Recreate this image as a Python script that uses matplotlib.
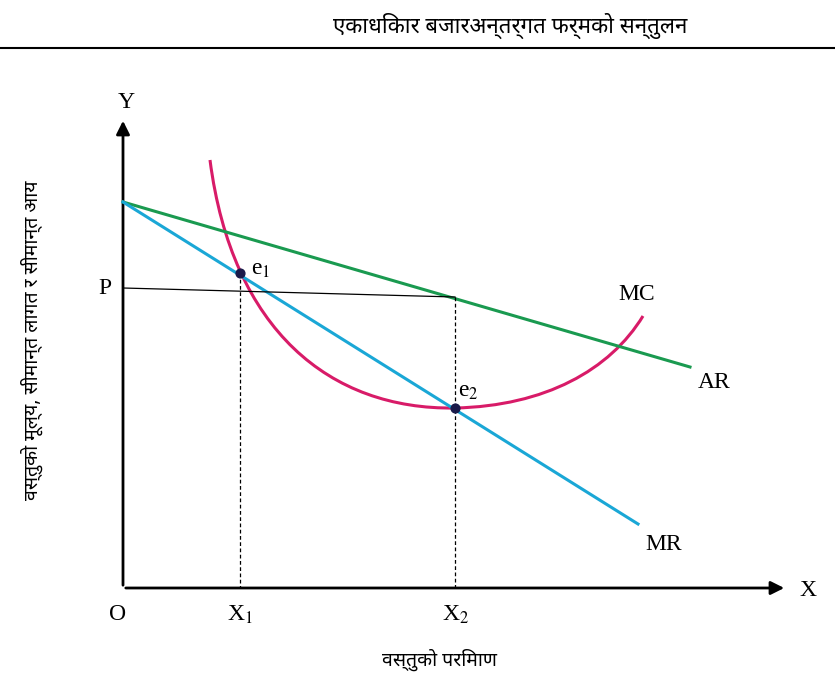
import matplotlib.pyplot as plt
from matplotlib.patches import FancyArrowPatch, PathPatch
from matplotlib.path import Path

plt.rcParams['font.family'] = ['Noto Sans', 'DejaVu Sans']
plt.rcParams['mathtext.fontset'] = 'stix'

# coordinates (pixel space, y down)
origin = (123, 588)
ar_x = [123, 690]
ar_y = [202, 367]
mr_x = [123, 638]
mr_y = [202, 524]
# MC drawn as two cubic Bezier segments: start, ctrl, ctrl, min, ctrl, ctrl, end
mc_pts = [(210, 160), (232, 330), (330, 410), (455, 408), (545, 406), (610, 370), (643, 316)]
e_x = [240, 455]
e_y = [273, 408]
p_y = 288
ar_at_x2 = 297

fig = plt.figure(figsize=(8.35, 6.81), dpi=100)
ax = fig.add_axes([0, 0, 1, 1])
ax.set_xlim(0, 835)
ax.set_ylim(681, 0)
ax.axis('off')

# header
ax.text(510, 26, 'एकाधिकार बजारअन्तर्गत फर्मको सन्तुलन', fontsize=16, fontweight='bold',
        ha='center', va='center')
ax.plot([0, 835], [48, 48], color='black', lw=1.5)

# axes arrows
ax.add_patch(FancyArrowPatch(origin, (123, 118), arrowstyle='-|>', mutation_scale=20, color='black', lw=2))
ax.add_patch(FancyArrowPatch(origin, (787, 588), arrowstyle='-|>', mutation_scale=20, color='black', lw=2))

ax.plot(ar_x, ar_y, color='#1a9a50', lw=2.2)
ax.plot(mr_x, mr_y, color='#1aa7d6', lw=2.2)
codes = [Path.MOVETO] + [Path.CURVE4] * 6
ax.add_patch(PathPatch(Path(mc_pts, codes), fill=False, edgecolor='#d81b68', lw=2.2))

ax.plot([123, e_x[1]], [p_y, ar_at_x2], color='black', lw=0.9)
ax.plot([e_x[0]] * 2, [e_y[0], 588], color='black', lw=0.9, ls=(0, (3, 2)))
ax.plot([e_x[1]] * 2, [ar_at_x2, 588], color='black', lw=0.9, ls=(0, (3, 2)))
ax.scatter(e_x, e_y, color='#1a1a4a', s=40, zorder=5)

serif = {'family': 'Liberation Serif', 'fontsize': 17}
ax.text(126, 102, 'Y', ha='center', va='center', **serif)
ax.text(808, 591, 'X', ha='center', va='center', **serif)
ax.text(118, 615, 'O', ha='center', va='center', **serif)
ax.text(105, 289, 'P', ha='center', va='center', **serif)
ax.text(240, 615, 'X$_1$', ha='center', va='center', **serif)
ax.text(456, 615, 'X$_2$', ha='center', va='center', **serif)
ax.text(251, 270, 'e$_1$', ha='left', va='center', **serif)
ax.text(458, 392, 'e$_2$', ha='left', va='center', **serif)
ax.text(618, 295, 'MC', ha='left', va='center', **serif)
ax.text(698, 382, 'AR', ha='left', va='center', **serif)
ax.text(645, 545, 'MR', ha='left', va='center', **serif)

ax.text(440, 660, 'वस्तुको परिमाण', fontsize=14, ha='center', va='center')
ax.text(32, 340, 'वस्तुको मूल्य, सीमान्त लागत र सीमान्त आय', fontsize=14,
        ha='center', va='center', rotation=90)

fig.savefig('out.png', dpi=100)
